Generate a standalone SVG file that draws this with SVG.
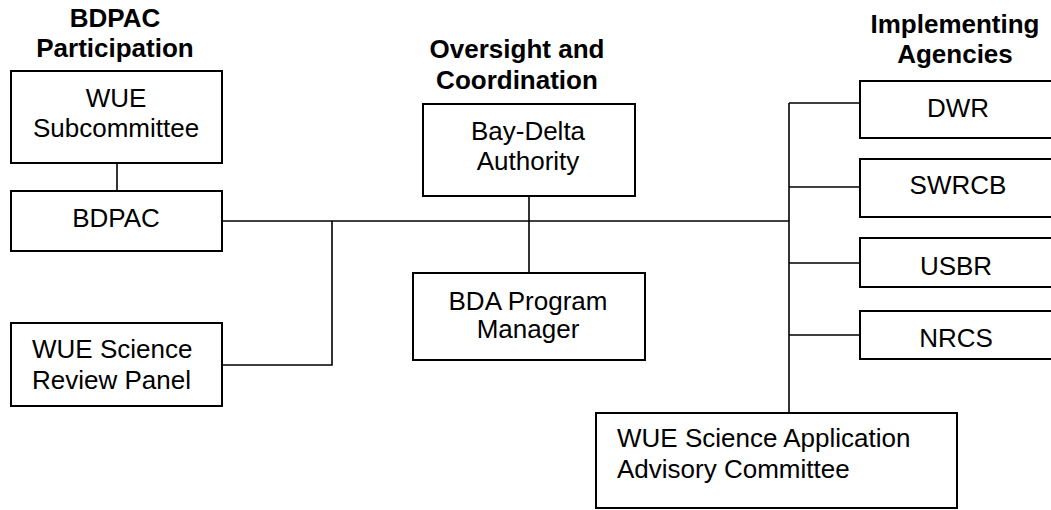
<svg xmlns="http://www.w3.org/2000/svg" width="1051" height="510" viewBox="0 0 1051 510">
<style>
.box{fill:#fff;stroke:#000;stroke-width:2}
.ln{stroke:#000;stroke-width:1.6;fill:none}
text{font-family:"Liberation Sans",Arial,sans-serif;font-size:26px;fill:#000}
.c{text-anchor:middle}
.h{font-weight:bold}
</style>
<rect width="1051" height="510" fill="#fff"/>
<g id="connectors">
<path class="ln" d="M117,163V191"/>
<path class="ln" d="M222,221H789"/>
<path class="ln" d="M332,221V365H222"/>
<path class="ln" d="M529,196V273"/>
<path class="ln" d="M789,103V413"/>
<path class="ln" d="M789,103H860"/>
<path class="ln" d="M789,187H860"/>
<path class="ln" d="M789,263H860"/>
<path class="ln" d="M789,335H860"/>
</g>
<g id="title-bdpac"><text class="c h" x="115" y="27">BDPAC</text><text class="c h" x="115" y="57">Participation</text></g>
<g id="title-oversight"><text class="c h" x="517" y="58">Oversight and</text><text class="c h" x="517" y="89">Coordination</text></g>
<g id="title-agencies"><text class="c h" x="955" y="33">Implementing</text><text class="c h" x="955" y="63">Agencies</text></g>
<g id="wue-sub"><rect class="box" x="11" y="71" width="211" height="92"/><text class="c" x="116" y="107">WUE</text><text class="c" x="116" y="137">Subcommittee</text></g>
<g id="bdpac"><rect class="box" x="11" y="191" width="211" height="60"/><text class="c" x="116" y="227">BDPAC</text></g>
<g id="review"><rect class="box" x="11" y="323" width="211" height="83"/><text x="32" y="358">WUE Science</text><text x="32" y="389">Review Panel</text></g>
<g id="bda"><rect class="box" x="423" y="104" width="212" height="92"/><text class="c" x="528" y="140">Bay-Delta</text><text class="c" x="528" y="170">Authority</text></g>
<g id="bda-pm"><rect class="box" x="413" y="273" width="232" height="87"/><text class="c" x="528" y="310">BDA Program</text><text class="c" x="528" y="338">Manager</text></g>
<g id="dwr"><rect class="box" x="860" y="81" width="200" height="57"/><text class="c" x="958" y="117">DWR</text></g>
<g id="swrcb"><rect class="box" x="860" y="159" width="200" height="58"/><text class="c" x="958" y="194">SWRCB</text></g>
<g id="usbr"><rect class="box" x="860" y="238" width="200" height="49"/><text class="c" x="956" y="275">USBR</text></g>
<g id="nrcs"><rect class="box" x="860" y="311" width="200" height="48"/><text class="c" x="956" y="347">NRCS</text></g>
<g id="saac"><rect class="box" x="596" y="413" width="361" height="95"/><text x="617" y="447">WUE Science Application</text><text x="617" y="478">Advisory Committee</text></g>
</svg>
